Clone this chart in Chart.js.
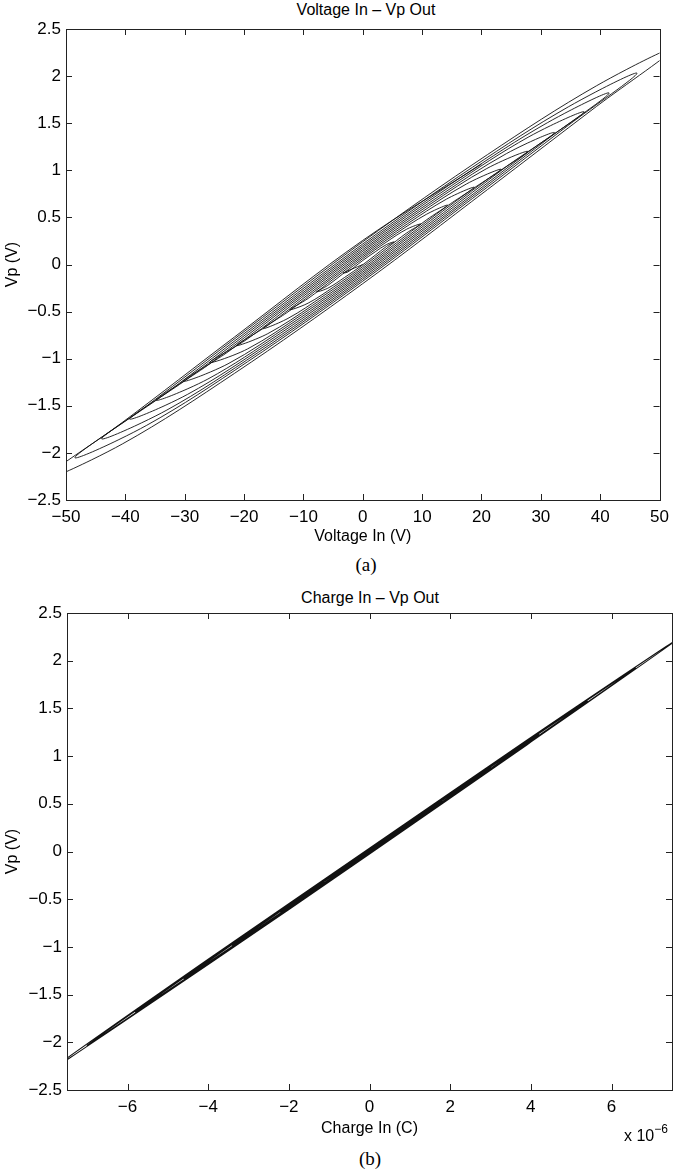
<!DOCTYPE html>
<html>
<head>
<meta charset="utf-8">
<script src="https://cdn.jsdelivr.net/npm/chart.js@4.4.1/dist/chart.umd.min.js"></script>
<style>
  body { margin: 0; background: #fff; }
  #page { position: relative; width: 676px; height: 1173px; font-family: "Liberation Sans", Arial, sans-serif; color: #000; }
  canvas { position: absolute; left: 0; }
  .lbl { position: absolute; transform: translate(-50%, -50%); white-space: nowrap; font-size: 16px; }
  .cap { position: absolute; transform: translate(-50%, -50%); font-family: "Liberation Serif", "Times New Roman", serif; font-size: 19px; }
  #expo { position: absolute; left: 624px; top: 1124px; font-size: 16px; }
  #expo sup { font-size: 12px; position: relative; top: -2px; }
</style>
</head>
<body>
<div id="page">
  <div class="lbl" style="left:366px; top:10px;">Voltage In – Vp Out</div>
  <canvas id="voltChart" width="676" height="550" style="top:0"></canvas>
  <div class="cap" style="left:366px; top:565px;">(a)</div>

  <div class="lbl" style="left:370px; top:598px;">Charge In – Vp Out</div>
  <canvas id="chargeChart" width="676" height="582" style="top:560px"></canvas>
  <div id="expo">x 10<sup>−6</sup></div>
  <div class="cap" style="left:370px; top:1159px;">(b)</div>
</div>

<script>
// (a) input voltage (V) vs. measured Vp (V), decaying sweep
const voltIn = [
  20.0, 0, -21.6, -40.5, -54,
  -40.5, -21.6, 0, 21.0, 39.4, 52.5,
  39.4, 21.0, 0, -19.4, -36.4, -48.5,
  -36.4, -19.4, 0, 18.5, 34.7, 46.2,
  34.7, 18.5, 0, -17.6, -33.0, -44.0,
  -33.0, -17.6, 0, 16.6, 31.1, 41.5,
  31.1, 16.6, 0, -15.7, -29.5, -39.3,
  -29.5, -15.7, 0, 14.9, 28.0, 37.3,
  28.0, 14.9, 0, -13.9, -26.1, -34.8,
  -26.1, -13.9, 0, 12.9, 24.2, 32.3,
  24.2, 12.9, 0, -12.1, -22.7, -30.3,
  -22.7, -12.1, 0, 11.1, 20.9, 27.8,
  20.9, 11.1, 0, -10.3, -19.4, -25.8,
  -19.4, -10.3, 0, 9.3, 17.5, 23.3,
  17.5, 9.3, 0, -8.5, -16.0, -21.3,
  -16.0, -8.5, 0, 7.5, 14.1, 18.8,
  14.1, 7.5, 0, -6.7, -12.6, -16.8,
  -12.6, -6.7, 0, 5.7, 10.7, 14.3,
  10.7, 5.7, 0, -4.9, -9.2, -12.3,
  -9.2, -4.9, 0, 3.9, 7.4, 9.8,
  7.4, 3.9, 0, -3.1, -5.9, -7.8,
  -5.9, -3.1, 0, 2.1, 4.0, 5.3,
  4.0, 2.1, 0, -1.3, -2.5, -3.3,
  0
];
const vpOutA = [
  1.065, 0.256, -0.769, -1.676, -2.29,
  -1.905, -1.155, -0.203, 0.795, 1.679, 2.30,
  1.898, 1.166, 0.241, -0.683, -1.501, -2.05,
  -1.707, -1.032, -0.177, 0.702, 1.481, 2.03,
  1.676, 1.033, 0.218, -0.619, -1.360, -1.85,
  -1.545, -0.933, -0.157, 0.632, 1.330, 1.82,
  1.505, 0.929, 0.198, -0.549, -1.212, -1.64,
  -1.378, -0.830, -0.138, 0.570, 1.200, 1.62,
  1.356, 0.835, 0.179, -0.483, -1.069, -1.44,
  -1.216, -0.731, -0.118, 0.495, 1.040, 1.40,
  1.177, 0.727, 0.159, -0.416, -0.927, -1.24,
  -1.054, -0.632, -0.099, 0.429, 0.901, 1.20,
  1.019, 0.629, 0.140, -0.350, -0.789, -1.04,
  -0.896, -0.533, -0.080, 0.364, 0.758, 1.01,
  0.856, 0.530, 0.120, -0.285, -0.646, -0.86,
  -0.734, -0.435, -0.061, 0.297, 0.615, 0.82,
  0.694, 0.431, 0.101, -0.218, -0.503, -0.68,
  -0.572, -0.336, -0.042, 0.231, 0.472, 0.63,
  0.532, 0.333, 0.082, -0.152, -0.360, -0.48,
  -0.410, -0.238, -0.022, 0.165, 0.335, 0.43,
  0.375, 0.235, 0.063, -0.086, -0.222, -0.29,
  -0.252, -0.139, -0.003, 0.099, 0.192, 0.24,
  0.212, 0.135, 0.043, -0.021, -0.079, -0.09,
  0.0
];

// (b) input charge (x 10^-6 C) vs. Vp (V), same sweep
const chargeIn = [
  0, -4.0, -8.0,
  -4.0, 0, 3.9, 7.8,
  3.9, 0, -3.5, -7.0,
  -3.5, 0, 3.3, 6.6,
  3.3, 0, -2.9, -5.8,
  -2.9, 0, 2.7, 5.4,
  2.7, 0, -2.3, -4.6,
  -2.3, 0, 2.1, 4.2,
  2.1, 0, -1.7, -3.4,
  -1.7, 0, 1.5, 3.0,
  1.5, 0, -1.1, -2.2,
  -1.1, 0, 0.9, 1.8,
  0.9, 0, -0.5, -1.0
];
const vpOutB = [
  0.035, -1.130, -2.321,
  -1.186, -0.027, 1.117, 2.272,
  1.166, 0.035, -0.991, -2.030,
  -1.036, -0.022, 0.945, 1.924,
  0.986, 0.030, -0.821, -1.681,
  -0.858, -0.017, 0.774, 1.575,
  0.808, 0.025, -0.650, -1.332,
  -0.680, -0.013, 0.603, 1.226,
  0.629, 0.020, -0.478, -0.983,
  -0.501, -0.008, 0.432, 0.877,
  0.450, 0.015, -0.308, -0.635,
  -0.322, -0.003, 0.261, 0.528,
  0.272, 0.011, -0.136, -0.286
];

// axis ticks
const voltTicks = [-50, -40, -30, -20, -10, 0, 10, 20, 30, 40, 50];
const chargeTicks = [-6, -4, -2, 0, 2, 4, 6];
const vpTicks = [-2.5, -2, -1.5, -1, -0.5, 0, 0.5, 1, 1.5, 2, 2.5];

Chart.defaults.font.family = '"Liberation Sans", Arial, sans-serif';
Chart.defaults.color = '#000';

// box around the plot area with inward tick marks on all four sides
const boxTicks = {
  id: 'boxTicks',
  afterDatasetsDraw(chart) {
    const { ctx, chartArea: a, scales } = chart;
    const len = 6;
    ctx.save();
    ctx.strokeStyle = '#222';
    ctx.lineWidth = 1;
    ctx.beginPath();
    scales.x.ticks.forEach(t => {
      const px = Math.round(scales.x.getPixelForValue(t.value)) + 0.5;
      ctx.moveTo(px, a.bottom); ctx.lineTo(px, a.bottom - len);
      ctx.moveTo(px, a.top); ctx.lineTo(px, a.top + len);
    });
    scales.y.ticks.forEach(t => {
      const py = Math.round(scales.y.getPixelForValue(t.value)) + 0.5;
      ctx.moveTo(a.left, py); ctx.lineTo(a.left + len, py);
      ctx.moveTo(a.right, py); ctx.lineTo(a.right - len, py);
    });
    ctx.stroke();
    ctx.strokeRect(Math.round(a.left) + 0.5, Math.round(a.top) + 0.5,
                   Math.round(a.right - a.left), Math.round(a.bottom - a.top));
    ctx.restore();
  }
};

const fmt = v => String(v).replace('-', '\u2212');

function makeChart(id, xs, ys, opts) {
  const points = xs.map((x, i) => ({ x: x, y: ys[i] }));
  return new Chart(document.getElementById(id), {
    type: 'scatter',
    data: {
      datasets: [{
        data: points,
        showLine: true,
        borderColor: '#111',
        borderWidth: opts.lineWidth,
        pointRadius: 0,
        tension: opts.tension
      }]
    },
    options: {
      responsive: false,
      animation: false,
      devicePixelRatio: 1,
      layout: { padding: opts.padding },
      plugins: { legend: { display: false }, tooltip: { enabled: false } },
      scales: {
        x: {
          type: 'linear',
          min: opts.xMin, max: opts.xMax,
          grid: { display: false, drawTicks: false },
          border: { display: false },
          afterBuildTicks: s => { s.ticks = opts.xTicks.map(v => ({ value: v })); },
          afterFit: s => { s.height = opts.xHeight; },
          ticks: { padding: 7, font: { size: 17 }, callback: fmt, maxRotation: 0 },
          title: { display: true, text: opts.xTitle, font: { size: 16 }, padding: { top: 2, bottom: 4 } }
        },
        y: {
          type: 'linear',
          min: -2.5, max: 2.5,
          grid: { display: false, drawTicks: false },
          border: { display: false },
          afterBuildTicks: s => { s.ticks = vpTicks.map(v => ({ value: v })); },
          afterFit: s => { s.width = opts.yWidth; },
          ticks: { padding: 5, font: { size: 17 }, callback: fmt },
          title: { display: true, text: 'Vp (V)', font: { size: 16 }, padding: { top: 3, bottom: 2 } }
        }
      }
    },
    plugins: [boxTicks]
  });
}

makeChart('voltChart', voltIn, vpOutA, {
  xMin: -50, xMax: 50, xTicks: voltTicks, xTitle: 'Voltage In (V)',
  padding: { top: 29, right: 11, left: 0, bottom: 0 },
  xHeight: 50, yWidth: 66, lineWidth: 0.9, tension: 0.35
});

makeChart('chargeChart', chargeIn, vpOutB, {
  xMin: -7.5, xMax: 7.5, xTicks: chargeTicks, xTitle: 'Charge In (C)',
  padding: { top: 53, right: 4, left: 0, bottom: 0 },
  xHeight: 52, yWidth: 67, lineWidth: 1.1, tension: 0.3
});
</script>
</body>
</html>
